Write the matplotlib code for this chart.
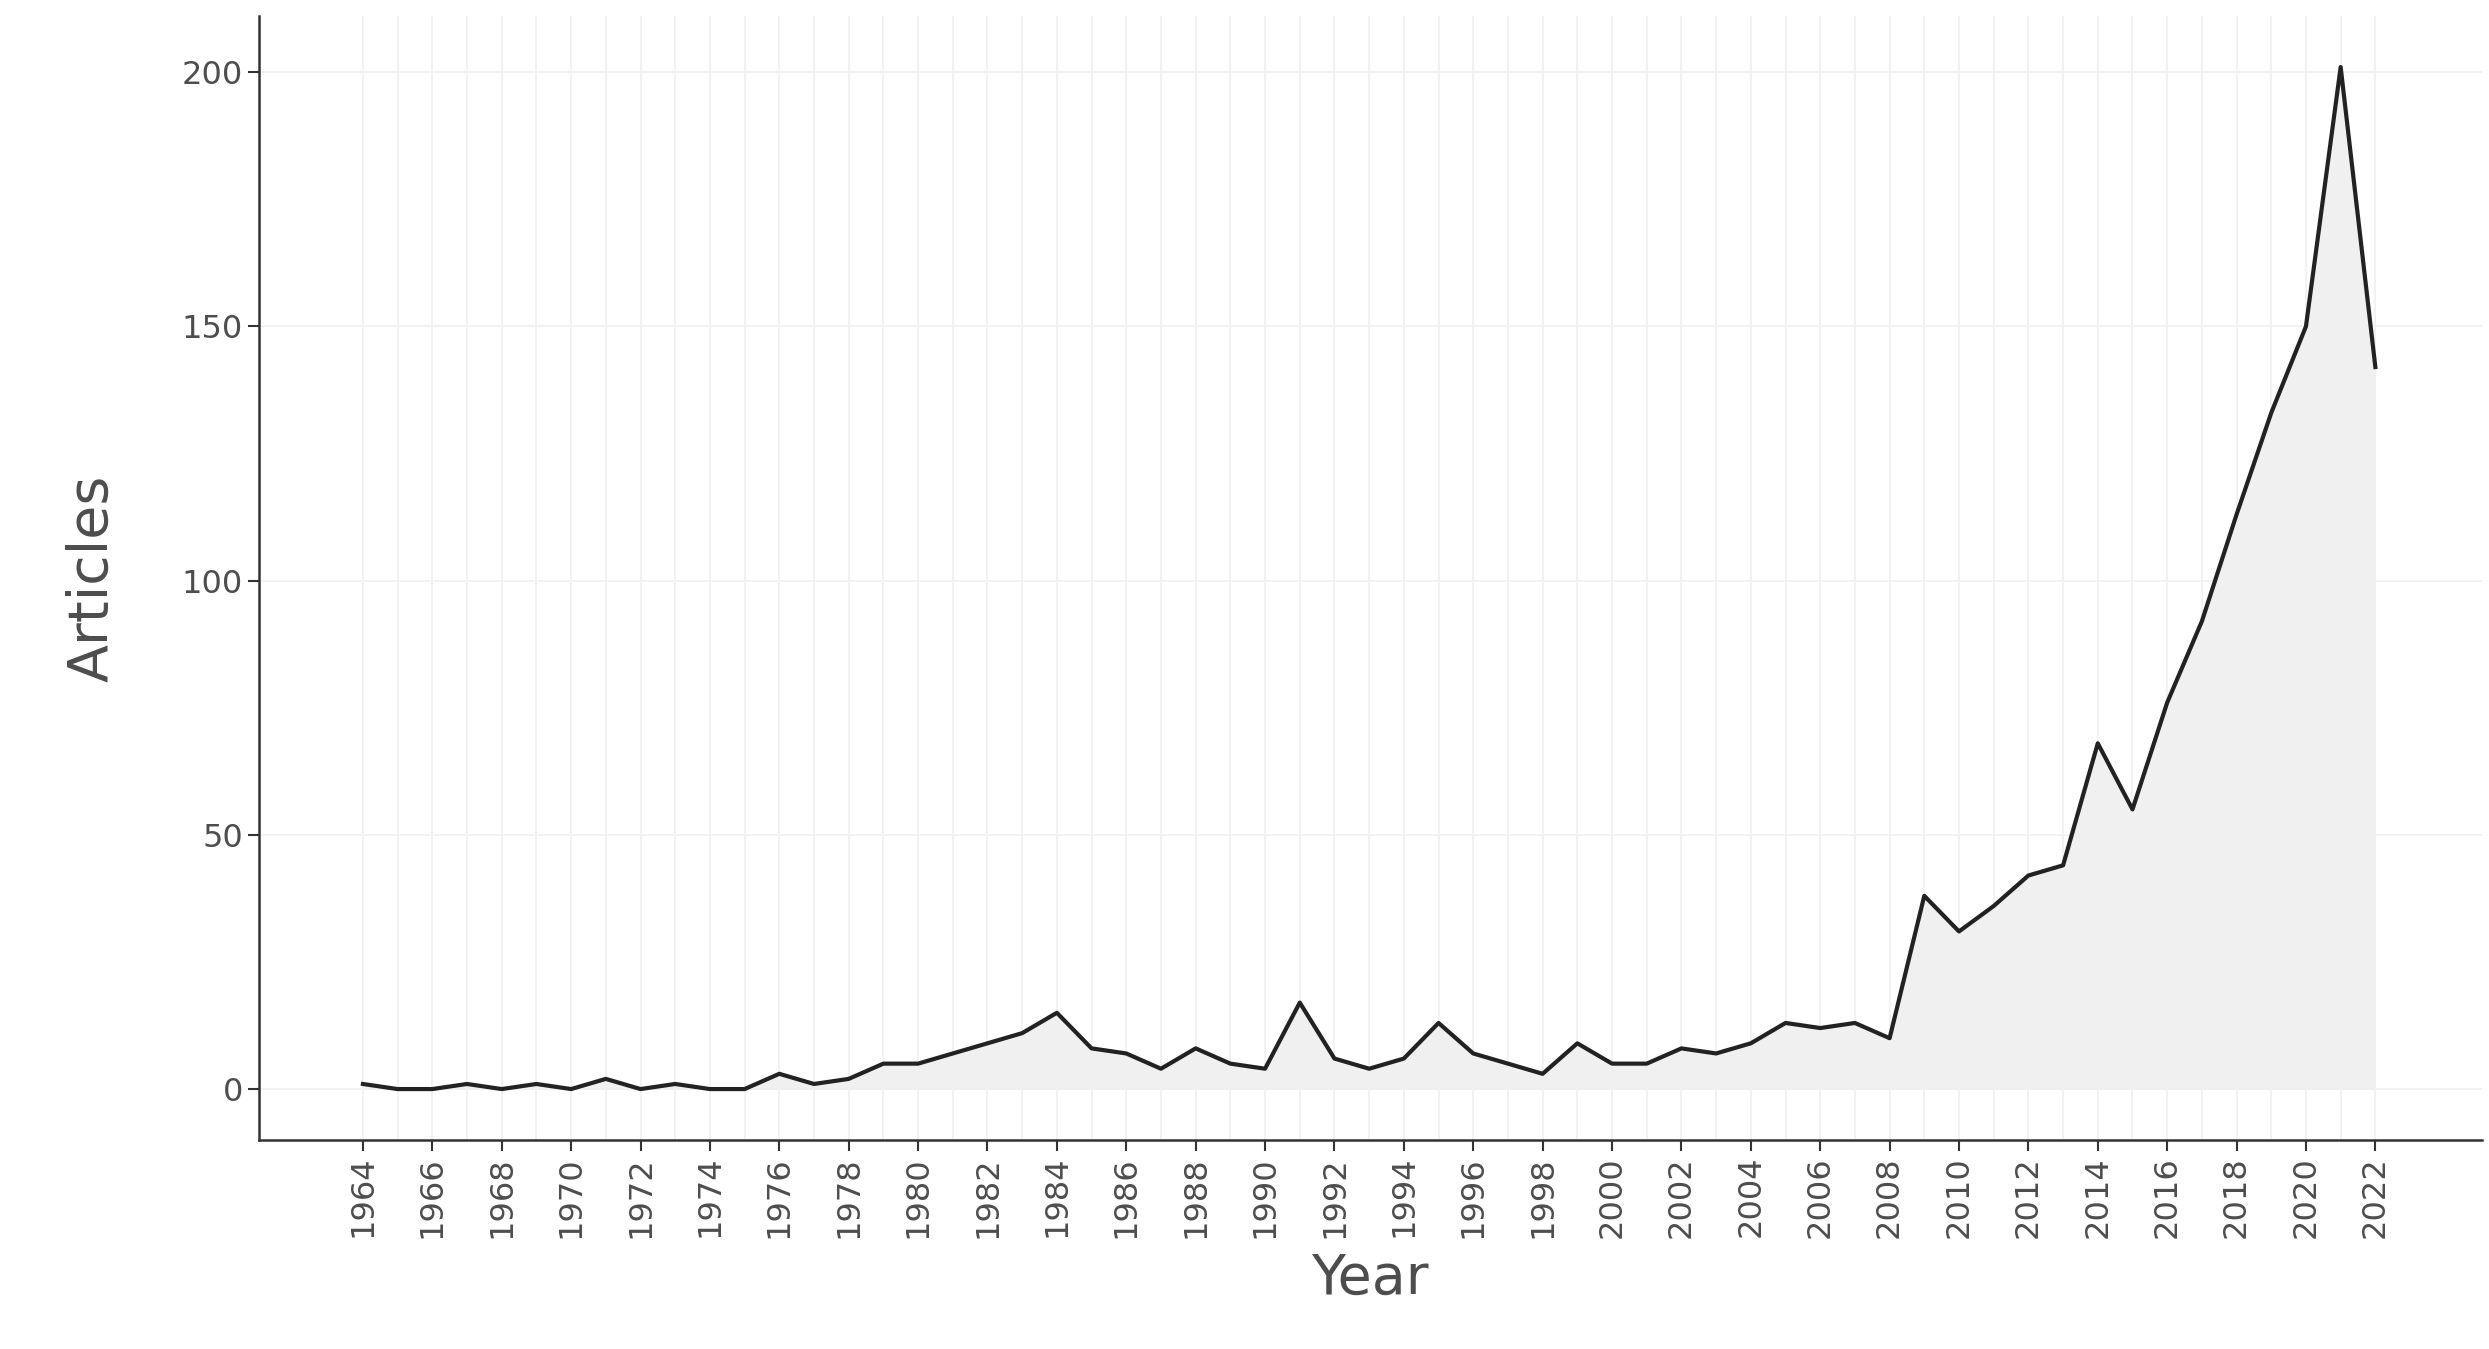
import matplotlib
matplotlib.use("Agg")
import matplotlib.pyplot as plt

years = list(range(1964, 2023))
articles = [1,0,0,1,0,1,0,2,0,1,0,0,3,1,2,5,5,7,9,11,15,8,7,4,8,5,4,17,6,4,6,13,7,5,3,9,5,5,8,7,9,13,12,13,10,
            38,31,36,42,44,68,55,76,92,113,133,150,201,142]
xticks = list(range(1964, 2023, 2))
yticks = [0, 50, 100, 150, 200]

fig = plt.figure(figsize=(24.89, 13.49), dpi=100)
ax = fig.add_axes([0.104, 0.155, 0.893, 0.833])
ax.fill_between(years, articles, 0, color="#f0f0f0", lw=0)
ax.plot(years, articles, color="#222222", lw=3)
ax.set_xlim(1961, 2025.06)
ax.set_ylim(-10, 211)
ax.set_xticks(xticks)
ax.set_xticks(years, minor=True)
ax.set_xticklabels([str(y) for y in xticks], rotation=90)
ax.set_yticks(yticks)
ax.grid(True, which="both", color="#f0f0f0", lw=1.2)
ax.set_axisbelow(True)
for s in ["top", "right"]:
    ax.spines[s].set_visible(False)
for s in ["left", "bottom"]:
    ax.spines[s].set_color("#333333")
    ax.spines[s].set_linewidth(1.8)
ax.tick_params(which="major", labelsize=23, labelcolor="#4d4d4d", color="#333333", length=8, width=1.5)
ax.tick_params(which="minor", length=0)
ax.set_xlabel("Year", fontsize=40, color="#4d4d4d", labelpad=10)
ax.set_ylabel("Articles", fontsize=40, color="#4d4d4d", labelpad=45)
fig.savefig("out.png", dpi=100)
